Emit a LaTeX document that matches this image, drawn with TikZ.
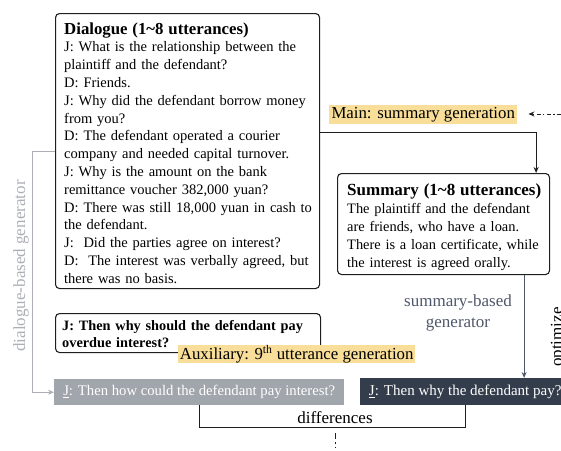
\documentclass[tikz,border=0pt]{standalone}
\usepackage{fontspec}
\setmainfont{Liberation Serif}
\usetikzlibrary{arrows.meta}
\definecolor{hl}{RGB}{248,222,152}
\definecolor{gbox}{RGB}{161,165,172}
\definecolor{dbox}{RGB}{52,61,76}
\definecolor{slate}{RGB}{78,88,106}
\definecolor{lgray}{RGB}{172,176,182}
\definecolor{ink}{RGB}{30,30,30}
\begin{document}
\begin{tikzpicture}[x=1pt,y=-1pt,
  box/.style={draw=ink, line width=1.1pt, rounded corners=4pt, inner sep=0pt, anchor=north west},
  txt/.style={inner sep=0pt, anchor=base west, align=left, font=\fontsize{14.5}{17.8}\selectfont},
  hlbox/.style={fill=hl, inner sep=0pt, anchor=north west, font=\fontsize{16.8}{18}\selectfont},
  lbl/.style={inner sep=0pt, font=\fontsize{17}{21}\selectfont},
  conn/.style={draw=ink, line width=1pt},
  tip/.style={-{Stealth[length=6pt,width=5pt]}},
]
\useasboundingbox (0,0) rectangle (561,450);

% Dialogue box
\node[box, minimum width=264pt, minimum height=275pt] (dlg) at (55,13) {};
\node[txt, text width=258pt] (dlgtxt) at (64,34) {\textbf{\fontsize{16.8}{17.8}\selectfont Dialogue (1\textasciitilde 8 utterances)}\\
J: What is the relationship between the\\
plaintiff and the defendant?\\
D: Friends.\\
J: Why did the defendant borrow money\\
from you?\\
D: The defendant operated a courier\\
company and needed capital turnover.\\
J: Why is the amount on the bank\\
remittance voucher 382,000 yuan?\\
D: There was still 18,000 yuan in cash to\\
the defendant.\\
J:\ \ Did the parties agree on interest?\\
D:\ \ The interest was verbally agreed, but\\
there was no basis.};

% Summary box
\node[box, minimum width=212pt, minimum height=101pt] (sum) at (337,173) {};
\node[txt, text width=205pt, font=\fontsize{14.4}{18}\selectfont] (sumtxt) at (347,195) {\textbf{\fontsize{17}{18}\selectfont Summary (1\textasciitilde 8 utterances)}\\
The plaintiff and the defendant\\
are friends, who have a loan.\\
There is a loan certificate, while\\
the interest is agreed orally.};

% Main highlight
\node[hlbox, minimum width=188pt, minimum height=19pt] (main) at (329,105) {Main: summary generation};

% Bold question box
\node[box, minimum width=265pt, minimum height=39pt] (qbox) at (55,313) {};
\node[txt, text width=258pt, font=\fontsize{14.3}{17.8}\selectfont] (qtxt) at (62,330) {\textbf{J: Then why should the defendant pay}\\
\textbf{overdue interest?}};

% Auxiliary highlight
\node[hlbox, minimum width=237pt, minimum height=18pt] (aux) at (178,345) {Auxiliary: 9\textsuperscript{th} utterance generation};

% Generated boxes
\node[fill=gbox, text=white, inner sep=0pt, anchor=north west, minimum width=290pt, minimum height=26pt, font=\fontsize{14.7}{18}\selectfont] (gen1) at (54,379) {\underline{J}: Then how could the defendant pay interest?};
\node[fill=dbox, text=white, inner sep=0pt, anchor=north west, minimum width=210pt, minimum height=27pt, font=\fontsize{15}{18}\selectfont] (gen2) at (360,378) {\underline{J}: Then why the defendant pay?};

% dialogue -> summary
\draw[conn, tip] (dlg.east |- 0,132) -| ([xshift=-14pt]sum.north east);
% feedback dash-dot into main
\coordinate (fb) at (561,114);
\draw[conn, tip, dash pattern=on 4pt off 2.5pt on 1.2pt off 2.5pt] (fb) -- ([xshift=11pt]main.east |- fb);
% summary -> gen2
\draw[draw=slate, line width=1pt, tip] ([xshift=-26pt]sum.south east) -- ([xshift=-26pt]sum.south east |- gen2.north);
\node[lbl, text=slate, align=center, anchor=base] (sblabel) at (458,327) {summary-based\\generator};
% optimize
\node[lbl, rotate=90, anchor=base] (opt) at (562,337) {optimize};
% dialogue-based
\draw[draw=lgray, line width=1pt, tip] (dlg.west |- 0,151) -- (32,151) |- (gen1.west);
\node[lbl, rotate=90, anchor=base, text=lgray] (dblabel) at (25,266) {dialogue-based generator};
% differences
\draw[conn] (gen1.south) -- ++(0,22) -| (gen2.south);
\node[lbl, anchor=base] (diff) at (335,423) {differences};
\coordinate (d1) at (335,433);
\coordinate (d2) at (335,448);
\draw[conn, dash pattern=on 6pt off 3pt on 1.5pt off 3pt] (d1) -- (d2);
\end{tikzpicture}
\end{document}
